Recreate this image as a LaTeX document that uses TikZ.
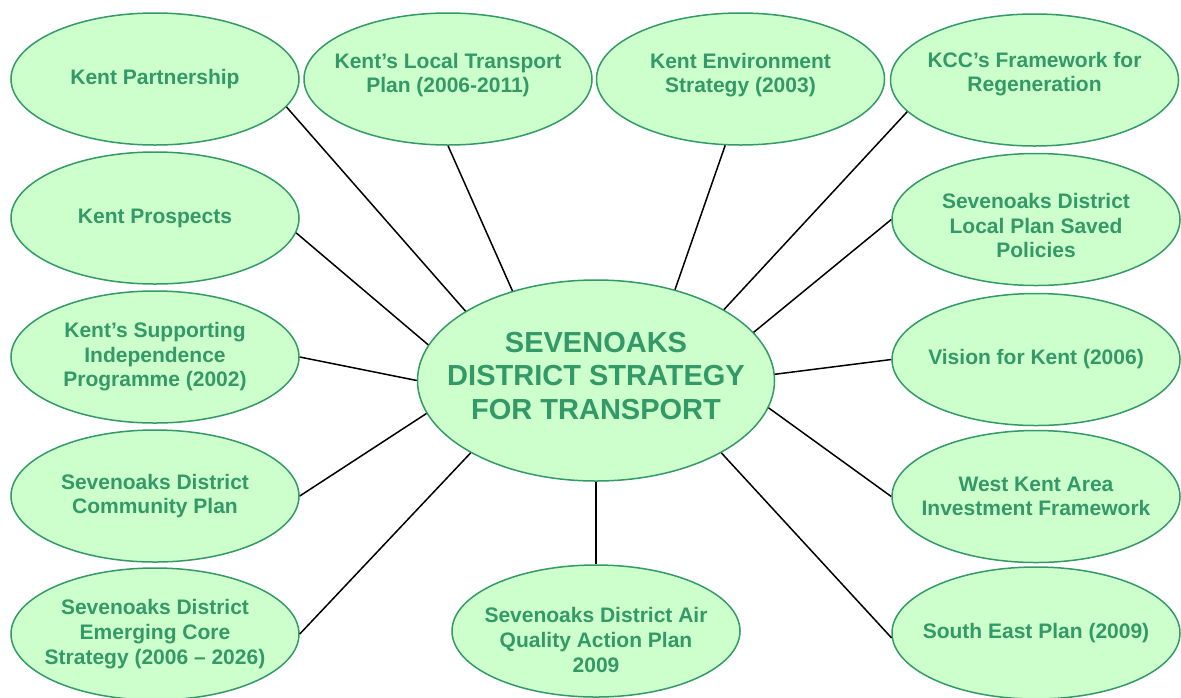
\documentclass[tikz,border=0pt]{standalone}
\usepackage{fontspec}
\setmainfont{Liberation Sans}
\usepackage{tikz}
\usetikzlibrary{shapes.geometric,positioning}
\usepackage{xcolor}
\definecolor{paleleaf}{RGB}{204,255,204}
\definecolor{deepleaf}{RGB}{51,153,102}
% struts that nudge a label inside its ellipse
\newcommand{\topgap}[1]{\rule{0pt}{#1}}
\newcommand{\lowgap}[1]{\rule[-#1]{0pt}{#1}}
\tikzset{
  bubble/.style={ellipse,draw=deepleaf,line width=0.75pt,fill=paleleaf,text=deepleaf,
    minimum width=144pt,minimum height=66pt,inner xsep=-20pt,inner ysep=0pt,align=center,
    font=\fontsize{10.5}{12.3}\selectfont\bfseries},
  hub/.style={bubble,minimum width=178.5pt,minimum height=100.5pt,
    font=\fontsize{14.5}{16.75}\selectfont\bfseries},
  link/.style={draw=black,line width=0.75pt}
}

\begin{document}
\begin{tikzpicture}[x=0.5pt,y=-0.5pt]
        \useasboundingbox (0,0) rectangle (1181,697);

        % Central strategy
        \node[hub] (sdst) at (596,380.5) {SEVENOAKS\\DISTRICT STRATEGY\\FOR TRANSPORT\lowgap{5pt}};

        % Left column
        \node[bubble] (kpart) at (155,79) {Kent Partnership};
        \node[bubble] (kprosp) at (155,218) {Kent Prospects};
        \node[bubble] (ksip) at (155,357) {Kent’s Supporting\\Independence\\Programme (2002)};
        \node[bubble] (sdcp) at (155,496) {Sevenoaks District\\Community Plan};
        \node[bubble] (sdcs) at (155,634) {Sevenoaks District\\Emerging Core\\Strategy (2006 \textendash{} 2026)};

        % Top row
        \node[bubble] (kltp) at (448,79) {Kent’s Local Transport\\Plan (2006-2011)\lowgap{6pt}};
        \node[bubble] (kenv) at (740.5,79) {Kent Environment\\Strategy (2003)\lowgap{6pt}};
        \node[bubble] (kccf) at (1034.5,80) {KCC’s Framework for\\Regeneration\lowgap{8pt}};

        % Right column
        \node[bubble] (sdlp) at (1036,219.5) {\topgap{13.6pt}Sevenoaks District\\Local Plan Saved\\Policies};
        \node[bubble] (vfk) at (1036,359.5) {Vision for Kent (2006)};
        \node[bubble] (wkaf) at (1036,496.5) {West Kent Area\\Investment Framework};
        \node[bubble] (sep) at (1036,633) {South East Plan (2009)};

        % Bottom
        \node[bubble] (aqap) at (596,631) {\topgap{16.6pt}Sevenoaks District Air\\Quality Action Plan\\2009};

        % Links to the centre
        \draw[link] (sdst.152) -- (kpart.348);
        \draw[link] (sdst.168) -- (kprosp.354);
        \draw[link] (sdst.180) -- (ksip.0);
        \draw[link] (sdst.191) -- (sdcp.0);
        \draw[link] (sdst.210) -- (sdcs.0);
        \draw[link] (sdst.133) -- (kltp.270);
        \draw[link] (sdst.49) -- (kenv.257);
        \draw[link] (sdst.29) -- (kccf.194);
        \draw[link] (sdst.17) -- (sdlp.180);
        \draw[link] (sdst.2) -- (vfk.180);
        \draw[link] (sdst.351) -- (wkaf.180);
        \draw[link] (sdst.330) -- (sep.182);
        \draw[link] (sdst.270) -- (aqap.90);
\end{tikzpicture}
\end{document}
